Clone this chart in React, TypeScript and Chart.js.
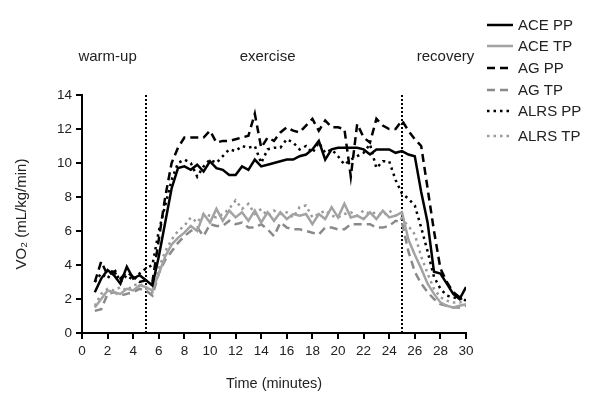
import React, { useEffect, useRef } from "react";
import { Chart, registerables } from "chart.js";

Chart.register(...registerables);

const time = [1, 1.5, 2, 2.5, 3, 3.5, 4, 4.5, 5, 5.5, 6, 6.5, 7, 7.5, 8, 8.5, 9, 9.5, 10, 10.5, 11, 11.5, 12, 12.5, 13, 13.5, 14, 14.5, 15, 15.5, 16, 16.5, 17, 17.5, 18, 18.5, 19, 19.5, 20, 20.5, 21, 21.5, 22, 22.5, 23, 23.5, 24, 24.5, 25, 25.5, 26, 26.5, 27, 27.5, 28, 28.5, 29, 29.5, 30];

const acePP = [2.4, 3.2, 3.7, 3.4, 2.9, 3.9, 3.2, 3.4, 3.1, 2.8, 4.5, 6.5, 8.5, 9.7, 9.8, 9.6, 9.9, 9.5, 10.1, 9.7, 9.6, 9.3, 9.3, 9.8, 9.6, 10.2, 9.8, 9.9, 10.0, 10.1, 10.2, 10.2, 10.4, 10.5, 10.8, 11.3, 10.2, 10.8, 10.9, 10.9, 10.9, 10.9, 10.8, 10.5, 10.8, 10.8, 10.8, 10.6, 10.7, 10.5, 10.4, 8.3, 6.5, 3.6, 3.5, 2.9, 2.3, 2.0, 2.7];
const aceTP = [1.5, 2.0, 2.5, 2.4, 2.3, 2.6, 2.5, 2.8, 2.7, 2.5, 3.5, 4.5, 5.2, 5.6, 5.9, 6.3, 6.0, 7.0, 6.5, 7.3, 6.6, 7.2, 6.8, 7.1, 6.6, 7.2, 6.5, 7.1, 6.6, 7.1, 6.7, 7.0, 6.9, 7.0, 6.4, 7.0, 6.7, 7.4, 6.8, 7.6, 6.8, 6.9, 6.7, 7.1, 6.7, 7.2, 6.8, 6.9, 7.1, 5.5, 4.6, 3.8, 2.9, 2.3, 1.8, 1.6, 1.5, 1.6, 1.7];
const agPP = [3.0, 4.2, 3.4, 3.6, 3.2, 3.6, 3.3, 3.0, 3.1, 3.0, 5.5, 8.0, 10.0, 10.9, 11.5, 11.5, 11.5, 11.5, 11.9, 11.2, 11.3, 11.3, 11.4, 11.5, 11.6, 12.9, 10.9, 11.5, 11.3, 11.8, 12.1, 11.9, 11.8, 12.2, 12.6, 11.9, 12.5, 12.1, 12.1, 12.0, 9.2, 12.3, 11.5, 11.2, 12.6, 12.2, 12.0, 12.0, 12.5, 11.9, 11.4, 11.0, 8.5, 6.0, 3.8, 3.0, 2.4, 2.1, 1.9, 2.2];
const agTP = [1.3, 1.4, 2.3, 2.4, 2.2, 2.3, 2.4, 2.6, 2.5, 2.2, 3.5, 4.3, 4.8, 5.3, 5.7, 6.0, 6.2, 5.7, 6.4, 6.3, 6.3, 6.6, 6.4, 6.5, 6.2, 6.2, 6.4, 6.1, 5.7, 6.5, 6.2, 6.1, 6.1, 6.0, 5.9, 5.8, 6.2, 6.2, 6.1, 6.1, 6.4, 6.4, 6.4, 6.4, 6.2, 6.2, 6.3, 6.6, 6.5, 4.8, 3.6, 2.9, 2.4, 2.0, 1.7, 1.6, 1.5, 1.5, 1.6];
const alrsPP = [3.0, 3.5, 3.2, 3.8, 3.0, 3.4, 3.1, 3.5, 3.8, 4.0, 6.0, 7.5, 9.0, 10.0, 10.2, 10.0, 9.2, 9.8, 10.2, 10.0, 10.4, 10.8, 10.7, 11.0, 10.9, 11.0, 10.0, 10.8, 10.9, 10.9, 11.4, 11.2, 10.8, 11.0, 10.6, 11.2, 10.6, 10.8, 10.4, 9.9, 10.2, 10.4, 10.6, 11.1, 9.7, 10.1, 10.1, 9.0, 8.2, 7.9, 7.5, 6.2, 4.8, 3.3, 2.6, 2.2, 2.1, 2.0, 2.1];
const alrsTP = [1.6, 2.3, 2.6, 2.5, 2.7, 2.5, 2.8, 2.9, 2.6, 2.4, 3.8, 4.8, 5.5, 6.0, 6.3, 6.8, 6.5, 7.0, 6.9, 6.8, 7.0, 7.3, 7.8, 7.3, 7.6, 7.0, 7.3, 6.9, 7.2, 7.0, 7.1, 6.8, 7.4, 7.5, 6.8, 7.0, 7.2, 6.9, 6.8, 7.0, 7.1, 6.9, 7.2, 7.0, 7.1, 6.9, 7.2, 6.9, 6.7, 6.3, 5.8, 4.5, 3.5, 2.6, 2.1, 1.9, 1.8, 1.8, 1.9];

const seriesNames = ["ACE PP", "ACE TP", "AG PP", "AG TP", "ALRS PP", "ALRS TP"];
const seriesValues = [acePP, aceTP, agPP, agTP, alrsPP, alrsTP];
const phaseBounds = [5, 25];
const phaseLabels = ["warm-up", "exercise", "recovery"];
const phaseLabelAt = [2, 14.5, 28.4];

const FONT = "'Liberation Sans', Arial, Helvetica, sans-serif";
const colors = ["#000000", "#a3a3a3", "#000000", "#8a8a8a", "#000000", "#9a9a9a"];
const dashes: number[][] = [[], [], [8, 5], [8, 5], [2.5, 4], [2.5, 4]];

const overlay = {
  id: "overlay",
  afterDraw(chart: any) {
    const ctx = chart.ctx;
    const xs = chart.scales.x;
    ctx.save();
    ctx.fillStyle = "#222";
    ctx.font = `15px ${FONT}`;
    ctx.textAlign = "center";
    ctx.textBaseline = "middle";
    phaseLabels.forEach((l, i) => {
      ctx.fillText(l, xs.getPixelForValue(phaseLabelAt[i]), 57);
    });
    const rows = [25, 46, 68, 90, 111, 136];
    ctx.font = `15px ${FONT}`;
    seriesNames.forEach((n, i) => {
      const y = rows[i];
      ctx.beginPath();
      ctx.strokeStyle = colors[i];
      ctx.lineWidth = 2.5;
      ctx.setLineDash(dashes[i]);
      ctx.moveTo(487, y);
      ctx.lineTo(513, y);
      ctx.stroke();
      ctx.setLineDash([]);
      ctx.fillStyle = "#222";
      ctx.textAlign = "left";
      ctx.fillText(n, 518, y + 1);
    });
    ctx.restore();
  },
};

export default function App() {
  const ref = useRef<HTMLCanvasElement>(null);
  useEffect(() => {
    if (!ref.current) return;
    const datasets: any[] = seriesValues.map((vals, i) => ({
      label: seriesNames[i],
      data: vals.map((v, j) => ({ x: time[j], y: v })),
      borderColor: colors[i],
      borderWidth: 2.5,
      borderDash: dashes[i],
      pointRadius: 0,
      tension: 0,
      fill: false,
    }));
    phaseBounds.forEach((b) => {
      datasets.push({
        label: "bound",
        data: [
          { x: b, y: 0 },
          { x: b, y: 14 },
        ],
        borderColor: "#000",
        borderWidth: 2,
        borderDash: [2, 2],
        pointRadius: 0,
      });
    });
    const chart = new Chart(ref.current, {
      type: "line",
      data: { datasets },
      plugins: [overlay],
      options: {
        animation: false,
        responsive: false,
        layout: { padding: { top: 95, right: 135, left: 0, bottom: 0 } },
        plugins: { legend: { display: false }, tooltip: { enabled: false } },
        scales: {
          x: {
            type: "linear",
            min: 0,
            max: 30,
            afterFit: (s: any) => {
              s.height = 62;
            },
            ticks: { stepSize: 2, color: "#222", font: { family: FONT, size: 13.5 }, padding: 4, maxRotation: 0 },
            grid: { display: true, drawOnChartArea: false, drawTicks: true, tickLength: 6, color: "#000", lineWidth: 2 },
            border: { color: "#000", width: 2 },
            title: { display: true, text: "Time (minutes)", color: "#222", font: { family: FONT, size: 14.5 }, padding: { top: 0, bottom: 2 } },
          },
          y: {
            min: 0,
            max: 14,
            afterFit: (s: any) => {
              s.width = 82;
            },
            ticks: { stepSize: 2, color: "#222", font: { family: FONT, size: 13.5 }, padding: 4 },
            grid: { display: true, drawOnChartArea: false, drawTicks: true, tickLength: 6, color: "#000", lineWidth: 2 },
            border: { color: "#000", width: 2 },
            title: { display: true, text: "VO₂ (mL/kg/min)", color: "#222", font: { family: FONT, size: 15 }, padding: { top: 13, bottom: 0 } },
          },
        },
      },
    });
    return () => chart.destroy();
  }, []);
  return (
    <div style={{ position: "absolute", left: 0, top: 0, width: 601, height: 395, background: "#fff" }}>
      <canvas ref={ref} width={601} height={395} />
    </div>
  );
}
